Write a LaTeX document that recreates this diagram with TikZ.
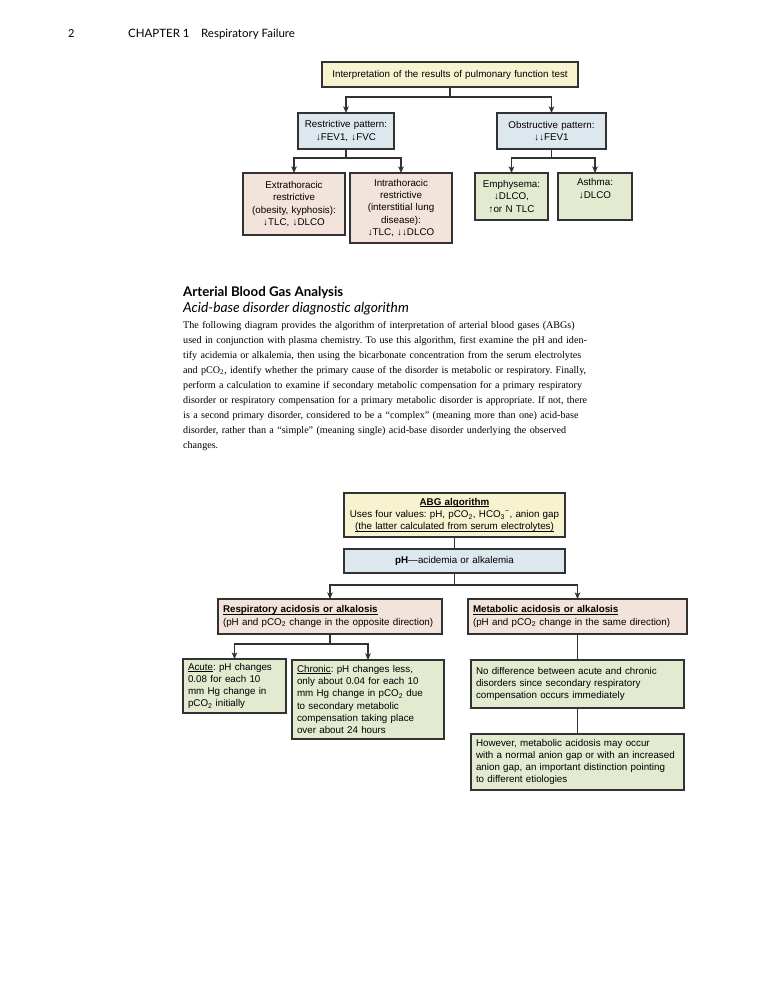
\documentclass[tikz,border=0pt]{standalone}
\usepackage{fontspec}
\setmainfont{Liberation Serif}
\setsansfont{Liberation Sans}
\newfontfamily\headfont{Lato}
\usetikzlibrary{positioning,arrows.meta}
\definecolor{boxline}{RGB}{50,50,50}
\definecolor{pftyellow}{RGB}{247,242,208}
\definecolor{pftblue}{RGB}{221,232,238}
\definecolor{pftpink}{RGB}{243,228,219}
\definecolor{pftgreen}{RGB}{226,234,208}
\frenchspacing
\newcommand{\uln}[1]{\leavevmode\setbox0\hbox{#1}\rlap{\rule[-1.8pt]{\wd0}{0.6pt}}\box0}

\begin{document}
\begin{tikzpicture}[x=1pt, y=-1pt,
  box/.style={rectangle, draw=boxline, line width=1.3pt, inner xsep=4pt, inner ysep=2pt, outer sep=0pt, anchor=north west, align=center, font=\sffamily\fontsize{9.8}{12.3}\selectfont},
  lbox/.style={box, align=left, inner xsep=5pt},
  link/.style={draw=boxline, line width=1.2pt},
  arrow/.style={link, -{Stealth[length=6.5pt, width=5.5pt, inset=1.5pt]}},
  heading/.style={anchor=base west, inner sep=0pt}]
\path[use as bounding box, fill=white] (0,0) rectangle (774,991);

\node[heading, font=\headfont\fontsize{11}{12}\selectfont] (pagenum) at (68,37) {2};
\node[heading, font=\headfont\fontsize{11.5}{12}\selectfont] (chapter) at (128,37) {CHAPTER 1\quad Respiratory Failure};

\node[box, fill=pftyellow, text width=248pt, minimum height=25pt] (pft) at (322,62) {Interpretation of the results of pulmonary function test};
\node[box, fill=pftblue, text width=88pt, minimum height=36pt] (restrictive) at (298,113) {Restrictive pattern:\\↓FEV1, ↓FVC};
\node[box, fill=pftblue, text width=101pt, minimum height=36pt] (obstructive) at (497,113) {Obstructive pattern:\\↓↓FEV1};
\node[box, fill=pftpink, text width=94pt, minimum height=62pt] (extra) at (243,173) {Extrathoracic\\restrictive\\(obesity, kyphosis):\\↓TLC, ↓DLCO};
\node[box, fill=pftpink, text width=94pt, minimum height=70pt] (intra) at (350,173) {Intrathoracic\\restrictive\\(interstitial lung\\disease):\\↓TLC, ↓↓DLCO};
\node[box, fill=pftgreen, text width=65pt, minimum height=47pt] (emphysema) at (475,173) {Emphysema:\\↓DLCO,\\↑or N TLC};
\node[box, fill=pftgreen, text width=66pt, minimum height=47pt] (asthma) at (558,173) {Asthma:\\↓DLCO\\\strut};

\draw[arrow] (pft.south) -- ++(0,10) -| (restrictive.north);
\draw[arrow] (pft.south) -- ++(0,10) -| (obstructive.north);
\draw[arrow] (restrictive.south) -- ++(0,9) -| (extra.north);
\draw[arrow] (restrictive.south) -- ++(0,9) -| (intra.north);
\draw[arrow] (obstructive.south) -- ++(0,9) -| (emphysema.north);
\draw[arrow] (obstructive.south) -- ++(0,9) -| (asthma.north);

\node[heading, font=\headfont\bfseries\fontsize{13.3}{15}\selectfont] (abgtitle) at (183,296.5) {Arterial Blood Gas Analysis};
\node[heading, font=\headfont\itshape\fontsize{13.8}{15}\selectfont] (abgsub) at (183,312.5) {Acid-base disorder diagnostic algorithm};
\node[heading, text width=407pt, font=\fontsize{10.1}{15}\selectfont] (abgtext) at (183,328) {\noindent
\makebox[407pt][s]{The following diagram provides the algorithm of interpretation of arterial blood gases (ABGs)}\\
\makebox[407pt][s]{used in conjunction with plasma chemistry. To use this algorithm, first examine the pH and iden-}\\
\makebox[407pt][s]{tify acidemia or alkalemia, then using the bicarbonate concentration from the serum electrolytes}\\
\makebox[407pt][s]{and pCO\textsubscript{2}, identify whether the primary cause of the disorder is metabolic or respiratory. Finally,}\\
\makebox[407pt][s]{perform a calculation to examine if secondary metabolic compensation for a primary respiratory}\\
\makebox[407pt][s]{disorder or respiratory compensation for a primary metabolic disorder is appropriate. If not, there}\\
\makebox[407pt][s]{is a second primary disorder, considered to be a “complex” (meaning more than one) acid-base}\\
\makebox[407pt][s]{disorder, rather than a “simple” (meaning single) acid-base disorder underlying the observed}\\
changes.};

\node[box, fill=pftyellow, text width=213pt, minimum height=44pt] (abg) at (344,493) {\uln{\textbf{ABG algorithm}}\\Uses four values: pH, pCO\textsubscript{2}, HCO\textsubscript{3}\textsuperscript{−}, anion gap\\\uln{(the latter calculated from serum electrolytes)}};
\node[box, fill=pftblue, text width=213pt, minimum height=24pt, below=12pt of abg] (ph) {\textbf{pH}—acidemia or alkalemia};
\node[lbox, fill=pftpink, text width=214pt, minimum height=35pt] (resp) at (218,599) {\uln{\textbf{Respiratory acidosis or alkalosis}}\\(pH and pCO\textsubscript{2} change in the opposite direction)};
\node[lbox, fill=pftpink, text width=209pt, minimum height=35pt] (metab) at (468,599) {\uln{\textbf{Metabolic acidosis or alkalosis}}\\(pH and pCO\textsubscript{2} change in the same direction)};
\node[lbox, fill=pftgreen, text width=93pt, minimum height=54pt] (acute) at (183,659) {\uln{Acute}: pH changes\\0.08 for each 10\\mm Hg change in\\pCO\textsubscript{2} initially};
\node[lbox, fill=pftgreen, text width=142pt, minimum height=79pt] (chronic) at (292,660) {\uln{Chronic}: pH changes less,\\only about 0.04 for each 10\\mm Hg change in pCO\textsubscript{2} due\\to secondary metabolic\\compensation taking place\\over about 24 hours};
\node[lbox, fill=pftgreen, text width=203pt, minimum height=48pt] (nodiff) at (471,660) {No difference between acute and chronic\\disorders since secondary respiratory\\compensation occurs immediately};
\node[lbox, fill=pftgreen, text width=203pt, minimum height=56pt, below=26pt of nodiff] (however) {However, metabolic acidosis may occur\\with a normal anion gap or with an increased\\anion gap, an important distinction pointing\\to different etiologies};

\draw[link] (abg.south) -- (ph.north);
\draw[arrow] (ph.south) -- ++(0,12) -| (resp.north);
\draw[arrow] (ph.south) -- ++(0,12) -| (metab.north);
\draw[arrow] (resp.south) -- ++(0,10) -| (acute.north);
\draw[arrow] (resp.south) -- ++(0,10) -| (chronic.north);
\draw[link] (metab.south) -- (nodiff.north);
\draw[link] (nodiff.south) -- (however.north);

\end{tikzpicture}
\end{document}
